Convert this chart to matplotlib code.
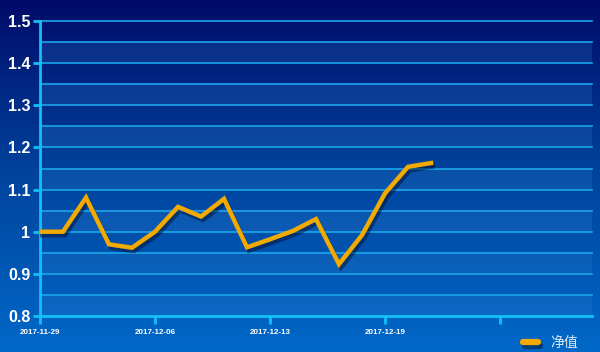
import numpy as np
import matplotlib
matplotlib.use("Agg")
import matplotlib.pyplot as plt
import matplotlib.patheffects as pe
from matplotlib.colors import LinearSegmentedColormap

# net value series (one point per trading day)
net_value = [1.000, 1.000, 1.081, 0.970, 0.962, 1.000, 1.059, 1.036, 1.078,
             0.963, 0.982, 1.002, 1.030, 0.923, 0.992, 1.091, 1.154, 1.163]
tick_pos = [0, 5, 10, 15, 20]
tick_labels = ["2017-11-29", "2017-12-06", "2017-12-13", "2017-12-19", ""]
n_slots = 25
series_name = "净值"

fig = plt.figure(figsize=(6, 3.52), dpi=100)

# background gradient
bg = fig.add_axes([0, 0, 1, 1], zorder=-10)
cmap = LinearSegmentedColormap.from_list("bg", ["#000b68", "#00449e", "#0068c8"])
grad = np.linspace(0, 1, 256).reshape(-1, 1)
bg.imshow(grad, aspect="auto", cmap=cmap, extent=[0, 1, 0, 1], origin="upper")
bg.axis("off")

W, H = 600, 352
ax = fig.add_axes([40 / W, 1 - 316 / H, 552 / W, 295 / H])
ax.set_facecolor("none")
ax.set_xlim(0, n_slots - 1)
ax.set_ylim(0.8, 1.5)

# split areas and grid lines
levels = np.round(np.arange(0.8, 1.5001, 0.05), 2)
for i in range(len(levels) - 1):
    if i % 2 == 0:
        ax.axhspan(levels[i], levels[i + 1], color="#3a8ad8", alpha=0.2, lw=0, zorder=0)
for lv in levels[1:]:
    ax.axhline(lv, color="#1aa6ea", lw=1.2, zorder=1, clip_on=False)

x = np.arange(len(net_value))
ax.plot(x, net_value, color="#f2a900", lw=3.2, solid_joinstyle="miter", zorder=3,
        path_effects=[pe.SimpleLineShadow(offset=(1.5, -2.5), shadow_color="#001030", alpha=0.5),
                      pe.Normal()], label=series_name)

for s in ["top", "right"]:
    ax.spines[s].set_visible(False)
for s in ["left", "bottom"]:
    ax.spines[s].set_color("#12c0f8")
    ax.spines[s].set_linewidth(2)

ax.set_yticks([0.8, 0.9, 1.0, 1.1, 1.2, 1.3, 1.4, 1.5])
ax.set_yticklabels(["0.8", "0.9", "1", "1.1", "1.2", "1.3", "1.4", "1.5"])
ax.set_xticks(tick_pos)
ax.set_xticklabels(tick_labels)
ax.tick_params(axis="y", colors="#12c0f8", length=5, width=2, pad=2)
ax.tick_params(axis="x", colors="#12c0f8", length=6, width=2, pad=3)
for t in ax.get_yticklabels():
    t.set_color("white")
    t.set_fontsize(11.5)
    t.set_fontweight("bold")
    t.set_family("Liberation Sans")
for t in ax.get_xticklabels():
    t.set_color("white")
    t.set_fontsize(5.8)
    t.set_fontweight("bold")
    t.set_family("Liberation Sans")

leg = fig.legend(loc="lower right", bbox_to_anchor=(0.985, -0.03), frameon=False,
                 handlelength=1.1, handletextpad=0.9,
                 prop={"family": ["Noto Sans CJK SC", "DejaVu Sans"], "size": 10})
for t in leg.get_texts():
    t.set_color("#dde8f5")
for h in leg.get_lines():
    h.set_linewidth(4.5)
    h.set_solid_capstyle("round")

fig.savefig("out.png", dpi=100)
